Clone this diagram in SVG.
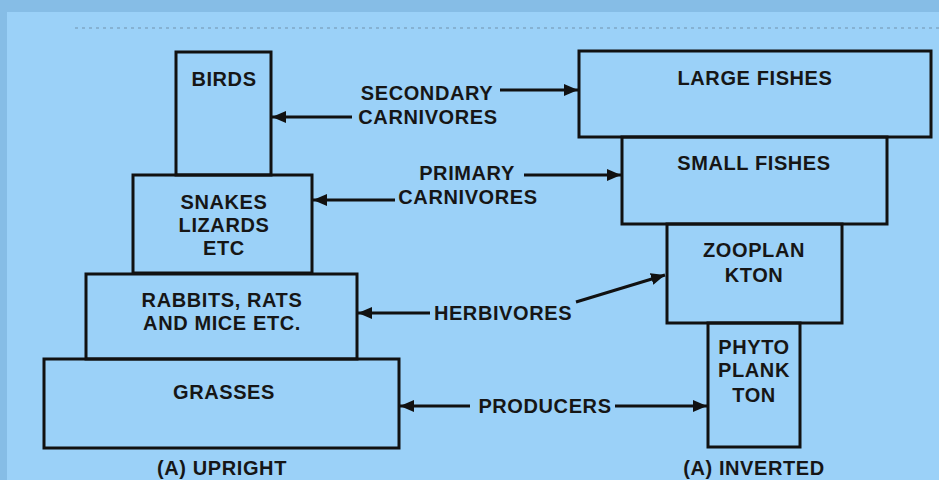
<svg xmlns="http://www.w3.org/2000/svg" width="939" height="480" viewBox="0 0 939 480">
<defs>
<style>
.box{fill:none;stroke:#111;stroke-width:3}
.t{font-family:"Liberation Sans",Arial,sans-serif;font-weight:bold;font-size:20px;letter-spacing:0.6px;fill:#161616;text-anchor:middle}
.c{stroke:#111;stroke-width:3;fill:none}
</style>
<marker id="ah" markerUnits="userSpaceOnUse" markerWidth="16" markerHeight="14" refX="14" refY="6" orient="auto">
<path d="M0,0 L14,6 L0,12 z" fill="#111"/>
</marker>
</defs>
<rect x="0" y="0" width="939" height="480" fill="#9bd1f8"/>
<rect x="0" y="0" width="939" height="12" fill="#86bde6"/>
<rect x="0" y="0" width="7" height="480" fill="#86bde6"/>
<line x1="75" y1="28" x2="939" y2="28" stroke="#6f8fa8" stroke-width="1.5" stroke-dasharray="3 4" opacity="0.6"/>

<g id="birds"><rect class="box" x="176" y="52" width="95" height="123"/><text class="t" x="224" y="86">BIRDS</text></g>
<g id="snakes"><rect class="box" x="133" y="175" width="179" height="98"/><text class="t" x="224" y="209">SNAKES</text><text class="t" x="224" y="232">LIZARDS</text><text class="t" x="224" y="255">ETC</text></g>
<g id="rabbits"><rect class="box" x="86" y="274" width="271" height="85"/><text class="t" x="222" y="307">RABBITS, RATS</text><text class="t" x="222" y="330">AND MICE ETC.</text></g>
<g id="grasses"><rect class="box" x="44" y="359" width="355" height="89"/><text class="t" x="224" y="399">GRASSES</text></g>
<g id="upright"><text class="t" x="222" y="475">(A) UPRIGHT</text></g>

<g id="largefishes"><rect class="box" x="579" y="51" width="352" height="86"/><text class="t" x="755" y="85">LARGE FISHES</text></g>
<g id="smallfishes"><rect class="box" x="622" y="137" width="265" height="87"/><text class="t" x="754" y="170">SMALL FISHES</text></g>
<g id="zooplankton"><rect class="box" x="667" y="224" width="175" height="99"/><text class="t" x="754" y="257">ZOOPLAN</text><text class="t" x="754" y="282">KTON</text></g>
<g id="phytoplankton"><rect class="box" x="708" y="323" width="92" height="124"/><text class="t" x="754" y="354">PHYTO</text><text class="t" x="754" y="377">PLANK</text><text class="t" x="754" y="402">TON</text></g>
<g id="inverted"><text class="t" x="754" y="475">(A) INVERTED</text></g>

<g id="labels">
<text class="t" x="427" y="100">SECONDARY</text>
<text class="t" x="428" y="124">CARNIVORES</text>
<text class="t" x="467" y="180">PRIMARY</text>
<text class="t" x="468" y="204">CARNIVORES</text>
<text class="t" x="503" y="320">HERBIVORES</text>
<text class="t" x="545" y="413">PRODUCERS</text>
</g>

<g id="connectors">
<line class="c" x1="500" y1="90" x2="578" y2="90" marker-end="url(#ah)"/>
<line class="c" x1="352" y1="117" x2="272" y2="117" marker-end="url(#ah)"/>
<line class="c" x1="524" y1="175" x2="621" y2="175" marker-end="url(#ah)"/>
<line class="c" x1="395" y1="200" x2="313" y2="200" marker-end="url(#ah)"/>
<line class="c" x1="430" y1="313" x2="358" y2="313" marker-end="url(#ah)"/>
<line class="c" x1="576" y1="302" x2="665" y2="275" marker-end="url(#ah)"/>
<line class="c" x1="470" y1="406" x2="400" y2="406" marker-end="url(#ah)"/>
<line class="c" x1="615" y1="406" x2="707" y2="406" marker-end="url(#ah)"/>
</g>
</svg>
